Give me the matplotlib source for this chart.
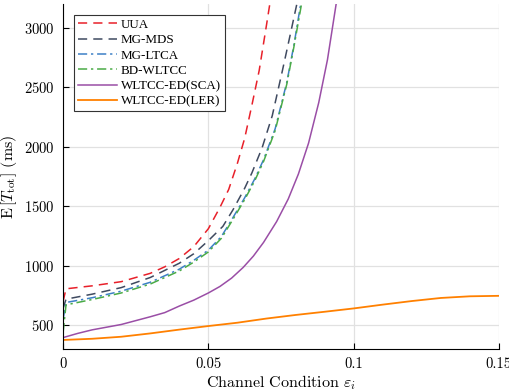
import numpy as np
import matplotlib
matplotlib.use('Agg')
import matplotlib.pyplot as plt

plt.rcParams['font.family'] = 'cmr10'
plt.rcParams['mathtext.fontset'] = 'cm'
plt.rcParams['axes.unicode_minus'] = False
plt.rcParams['axes.formatter.use_mathtext'] = True

# channel condition values per series
x_uua = [0, 0.001, 0.01, 0.02, 0.03, 0.035, 0.04, 0.045, 0.05, 0.054, 0.057, 0.06, 0.0625, 0.065, 0.0675, 0.07, 0.072]
y_uua = [700, 805, 830, 865, 935, 990, 1060, 1160, 1310, 1490, 1640, 1860, 2070, 2350, 2640, 3020, 3330]

x_mds = [0, 0.001, 0.01, 0.02, 0.03, 0.04, 0.045, 0.05, 0.055, 0.0585, 0.0625, 0.065, 0.0685, 0.072, 0.0755, 0.078, 0.081]
y_mds = [640, 718, 760, 815, 900, 1020, 1100, 1210, 1330, 1470, 1650, 1780, 1990, 2260, 2640, 2920, 3260]

x_ltca = [0, 0.001, 0.01, 0.02, 0.03, 0.04, 0.045, 0.05, 0.0545, 0.0585, 0.0625, 0.066, 0.069, 0.073, 0.077, 0.0795, 0.082]
y_ltca = [550, 690, 730, 785, 860, 970, 1045, 1130, 1245, 1405, 1570, 1730, 1890, 2150, 2540, 2860, 3230]

x_bd = [0, 0.001, 0.01, 0.02, 0.03, 0.04, 0.045, 0.05, 0.0545, 0.0585, 0.0625, 0.066, 0.069, 0.073, 0.077, 0.0795, 0.0823]
y_bd = [440, 670, 715, 770, 845, 955, 1030, 1115, 1230, 1390, 1555, 1715, 1875, 2135, 2525, 2845, 3230]

x_sca = [0, 0.005, 0.01, 0.02, 0.03, 0.035, 0.04, 0.045, 0.05, 0.054, 0.058, 0.062, 0.0655, 0.069, 0.0735, 0.0775, 0.081, 0.0845, 0.088, 0.091, 0.094, 0.0955]
y_sca = [395, 430, 460, 505, 570, 605, 660, 710, 770, 825, 895, 985, 1080, 1195, 1370, 1560, 1770, 2030, 2370, 2730, 3200, 3450]

x_ler = [0, 0.01, 0.02, 0.03, 0.04, 0.05, 0.06, 0.07, 0.08, 0.09, 0.1, 0.11, 0.12, 0.13, 0.14, 0.15]
y_ler = [375, 385, 402, 430, 462, 492, 520, 555, 585, 612, 640, 672, 702, 728, 742, 746]

x_ticks = [0, 0.05, 0.1, 0.15]
x_tick_labels = ['0', '0.05', '0.1', '0.15']
y_ticks = [500, 1000, 1500, 2000, 2500, 3000]

fig = plt.figure(figsize=(5.09, 3.92), dpi=100)
ax = fig.add_axes([0.124, 0.110, 0.856, 0.880])

lw = 1.1
ax.plot(x_uua, y_uua, color='#e8202a', ls=(0, (6, 4)), lw=lw, label='UUA')
ax.plot(x_mds, y_mds, color='#3f4a60', ls=(0, (6, 4)), lw=lw, label='MG-MDS')
ax.plot(x_ltca, y_ltca, color='#3d80c6', ls=(0, (6, 2.5, 1.5, 2.5)), lw=lw, label='MG-LTCA')
ax.plot(x_bd, y_bd, color='#4aab46', ls=(0, (6, 2.5, 1.5, 2.5)), lw=lw, label='BD-WLTCC')
ax.plot(x_sca, y_sca, color='#9a4ea6', ls='-', lw=lw, label='WLTCC-ED(SCA)')
ax.plot(x_ler, y_ler, color='#ff8000', ls='-', lw=1.3, label='WLTCC-ED(LER)')

ax.set_xlim(0, 0.15)
ax.set_ylim(300, 3200)
ax.set_xticks(x_ticks)
ax.set_xticklabels(x_tick_labels)
ax.set_yticks(y_ticks)
ax.grid(True, color='#e1e1e1', lw=0.9)
ax.set_axisbelow(True)
ax.spines['top'].set_visible(False)
ax.spines['right'].set_visible(False)
ax.tick_params(direction='in', length=4, labelsize=10.5, pad=6)

ax.set_xlabel(r'Channel Condition $\varepsilon_i$', fontsize=11.5, labelpad=2)
ax.set_ylabel(r'$\mathrm{E}\,[T_{\mathrm{tot}}]$ (ms)', fontsize=11.5, labelpad=4)

leg = ax.legend(loc='upper left', bbox_to_anchor=(0.025, 0.968),
                prop={'family': 'Liberation Serif', 'size': 9.4},
                handlelength=3.0, handletextpad=0.3, labelspacing=0.24,
                borderpad=0.3, borderaxespad=0, fancybox=False, framealpha=1,
                edgecolor='#333333')
leg.get_frame().set_linewidth(0.8)

fig.savefig('out.png', dpi=100)
